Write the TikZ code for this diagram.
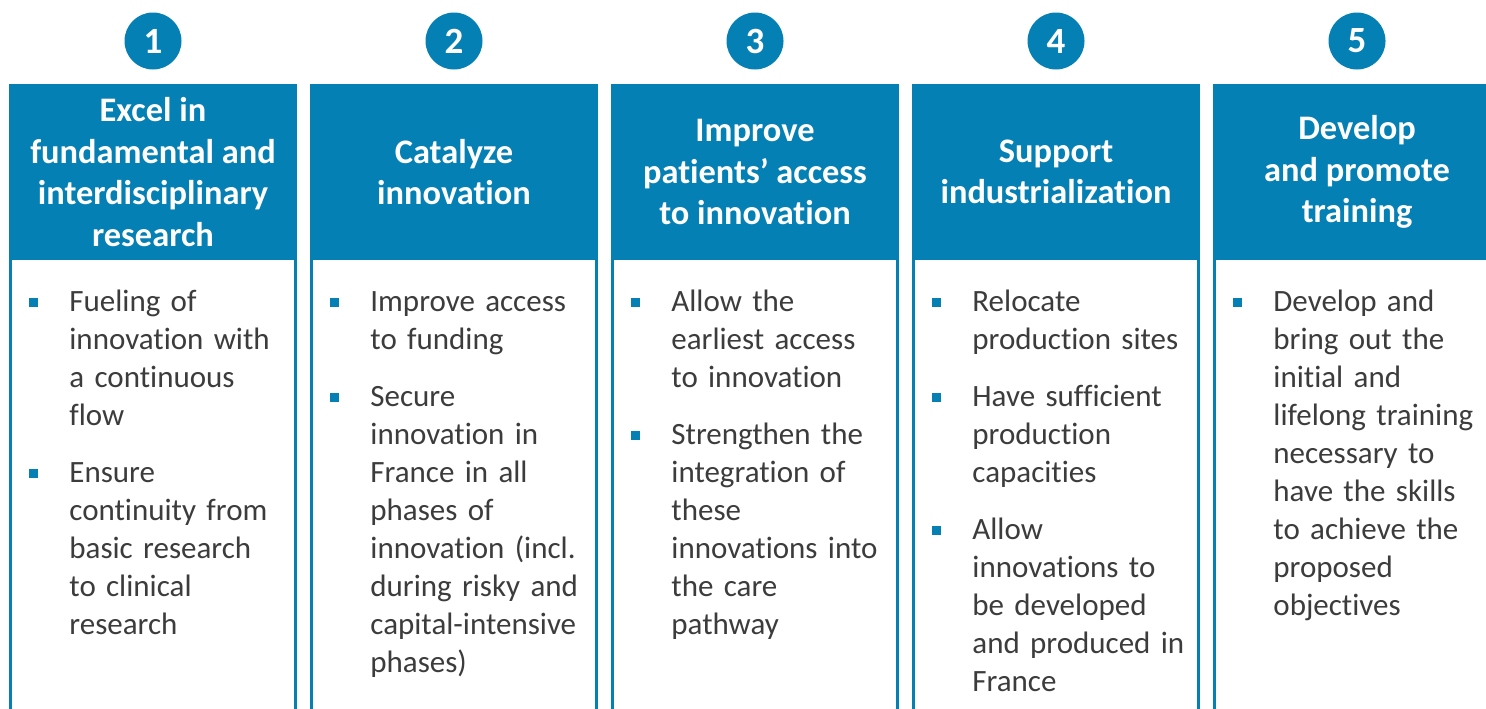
\documentclass[tikz,border=0pt]{standalone}
\usepackage{fontspec}
\setmainfont{Carlito}[Ligatures=NoCommon, Contextuals=NoAlternate, RawFeature={-dlig}]
\usetikzlibrary{positioning}

\definecolor{pillarblue}{HTML}{0580B4}
\definecolor{bodygray}{HTML}{3C3C3C}

% one bullet point of a pillar
\newcommand{\pitem}[1]{\par\noindent
  \makebox[20pt][l]{\strut\textcolor{pillarblue}{\rule[2.6pt]{4.5pt}{4.5pt}}}%
  \parbox[t]{115pt}{#1\strut}\par\vspace{8.5pt}}

\begin{document}
\begin{tikzpicture}[
    x=0.5pt, y=-0.5pt,
    num/.style={circle, fill=pillarblue, text=white, inner sep=0pt,
                minimum size=28.5pt, font=\fontsize{18.5}{20}\selectfont\bfseries},
    head/.style={text=white, align=center, inner sep=0pt,
                 font=\fontsize{17.2}{20.75}\selectfont\bfseries},
    body/.style={anchor=north west, text width=136pt, align=left, inner sep=0pt,
                 text=bodygray, font=\fontsize{15.5}{19}\selectfont},
  ]
  \useasboundingbox (0,0) rectangle (1486,708);
  \clip (0,0) rectangle (1486,708);

  % column frames and numbers
  \foreach \i in {1,...,5} {
    \pgfmathsetmacro\xl{9+301*(\i-1)}
    \fill[pillarblue] (\xl,84) rectangle ++(288,640);
    \fill[white] (\xl+3,260) rectangle ++(282,470);
    \node[num] (n\i) at (\xl+144,41) {\i};
  }

  % headers
  \node[head] (h1) at (153,172) {Excel in\\fundamental and\\interdisciplinary\\research};
  \node[head] (h2) at (454,172) {Catalyze\\innovation};
  \node[head] (h3) at (755,172) {Improve\\patients’ access\\to innovation};
  \node[head] (h4) at (1056,172) {Support\\industrialization};
  \node[head] (h5) at (1357,172) {Develop\\and promote\\training};

  % bullet lists
  \node[body] (b1) at (29,273.4) {%
    \pitem{Fueling of\\innovation with\\a continuous\\flow}%
    \pitem{Ensure\\continuity from\\basic research\\to clinical\\research}};
  \node[body] (b2) at (330,273.4) {%
    \pitem{Improve access\\to funding}%
    \pitem{Secure\\innovation in\\France in all\\phases of\\innovation (incl.\\during risky and\\capital-intensive\\phases)}};
  \node[body] (b3) at (631,273.4) {%
    \pitem{Allow the\\earliest access\\to innovation}%
    \pitem{Strengthen the\\integration of\\these\\innovations into\\the care\\pathway}};
  \node[body] (b4) at (932,273.4) {%
    \pitem{Relocate\\production sites}%
    \pitem{Have sufficient\\production\\capacities}%
    \pitem{Allow\\innovations to\\be developed\\and produced in\\France}};
  \node[body] (b5) at (1233,273.4) {%
    \pitem{Develop and\\bring out the\\initial and\\lifelong training\\necessary to\\have the skills\\to achieve the\\proposed\\objectives}};
\end{tikzpicture}
\end{document}
